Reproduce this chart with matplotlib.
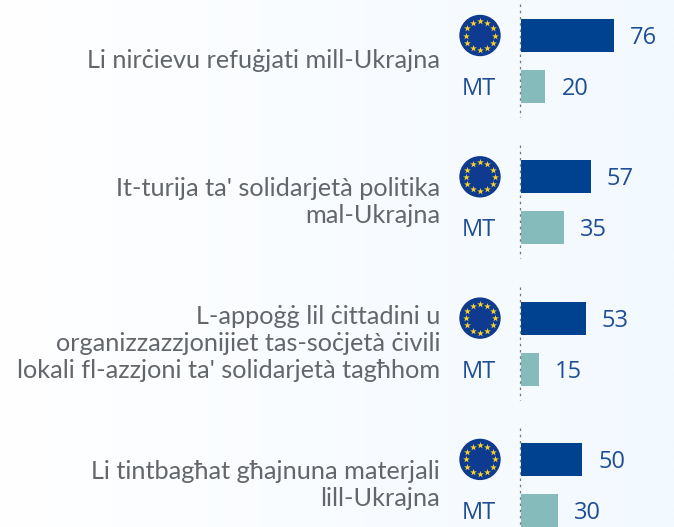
import numpy as np
import matplotlib
matplotlib.use("Agg")
import matplotlib.pyplot as plt
from matplotlib.colors import LinearSegmentedColormap
from matplotlib.patches import Circle

# survey questions, top to bottom
categories = ["Li nirċievu refuġjati mill-Ukrajna",
              "It-turija ta' solidarjetà politika\nmal-Ukrajna",
              "L-appoġġ lil ċittadini u\norganizzazzjonijiet tas-soċjetà ċivili\nlokali fl-azzjoni ta' solidarjetà tagħhom",
              "Li tintbagħat għajnuna materjali\nlill-Ukrajna"]
eu_values = [76, 57, 53, 50]
mt_values = [20, 35, 15, 30]
country = "MT"

W, H = 674, 527
PX_PER_UNIT = 1.22
ZERO_X = 521
FIRST_Y = 61
PITCH = 141.3
FONT = "Open Sans"
BLUE = "#00428f"
TEAL = "#86bbbb"
TEXT_BLUE = "#1f4e96"
GREY = "#63666a"

fig = plt.figure(figsize=(W / 100, H / 100), dpi=100)

# background fades from white to pale blue
bg = fig.add_axes([0, 0, 1, 1], zorder=0)
bg.imshow(np.linspace(0, 1, 256).reshape(1, -1), aspect="auto",
          cmap=LinearSegmentedColormap.from_list("bg", ["#ffffff", "#f2f9ff"]))
bg.axis("off")

ax = fig.add_axes([0, 0, 1, 1], zorder=1)
ax.patch.set_alpha(0)
ax.set_xlim(-ZERO_X / PX_PER_UNIT, (W - ZERO_X) / PX_PER_UNIT)
ax.set_ylim((H - FIRST_Y) / PITCH, -FIRST_Y / PITCH)
ax.axis("off")

y = np.arange(len(categories))
offset = 25.5 / PITCH
height = 33 / PITCH
ax.barh(y - offset, eu_values, height=height, color=BLUE, zorder=2)
ax.barh(y + offset, mt_values, height=height, color=TEAL, zorder=2)

# overlay in pixels for flags and labels
px = fig.add_axes([0, 0, 1, 1], zorder=2)
px.patch.set_alpha(0)
px.set_xlim(0, W)
px.set_ylim(H, 0)
px.axis("off")

for i, cat in enumerate(categories):
    cy = FIRST_Y + i * PITCH
    px.plot([ZERO_X - 1, ZERO_X - 1], [cy - 57, min(cy + 56, H)], color="#777777",
            lw=0.9, ls=(0, (2, 3)), zorder=3)
    px.text(440, cy, cat, ha="right", va="center", fontsize=18.2, color=GREY,
            family="Lato", linespacing=1.19)
    fy = cy - 25.5
    px.add_patch(Circle((480, fy), 20, color="#0e3a8f", zorder=3))
    angles = np.arange(12) * np.pi / 6
    px.scatter(480 + 14.5 * np.cos(angles), fy + 14.5 * np.sin(angles), marker="*",
               s=26, color="#f6d32c", linewidths=0, zorder=4)
    px.text(479, cy + 28, country, ha="center", va="center", fontsize=17,
            color=TEXT_BLUE, family=FONT)
    px.text(ZERO_X + eu_values[i] * PX_PER_UNIT + 16, fy + 2.5, str(eu_values[i]), ha="left",
            va="center", fontsize=17, color=TEXT_BLUE, family=FONT)
    px.text(ZERO_X + mt_values[i] * PX_PER_UNIT + 16, cy + 28, str(mt_values[i]), ha="left",
            va="center", fontsize=17, color=TEXT_BLUE, family=FONT)

fig.savefig("out.png", dpi=100)
